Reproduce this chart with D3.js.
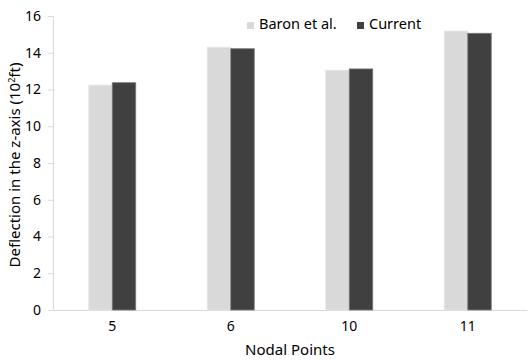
<!DOCTYPE html>
<html><head><meta charset="utf-8">
<script src="https://cdn.jsdelivr.net/npm/d3@7"></script>
<style>body{margin:0;background:#fff}svg{display:block}text{font-family:"Noto Sans",sans-serif;fill:#000}</style>
</head><body>
<svg id="c" width="529" height="360"></svg>
<script>
const categories = ["5", "6", "10", "11"];
const seriesNames = ["Baron et al.", "Current"];
const baron = [12.24, 14.3, 13.05, 15.18];
const current = [12.37, 14.22, 13.12, 15.06];
const yTicks = [0, 2, 4, 6, 8, 10, 12, 14, 16];
const colors = ["#d9d9d9", "#404040"];

const svg = d3.select("#c");
const m = {l: 53, r: 2, t: 16, b: 50};
const W = 529, H = 360;
const x = d3.scaleBand().domain(categories).range([m.l, W - m.r]).paddingInner(0).paddingOuter(0);
const xs = d3.scaleBand().domain(seriesNames).range([0, 47]);
const y = d3.scaleLinear().domain([0, 16]).range([H - m.b, m.t]);

// y axis
const ya = svg.append("g").attr("transform", `translate(${m.l},0)`)
  .call(d3.axisLeft(y).tickValues(yTicks).tickSize(5).tickPadding(7).tickFormat(d3.format("d")));
ya.selectAll("path,line").attr("stroke", "#d9d9d9");
ya.selectAll("text").style("font-size", "14px").attr("fill", "#000");

// x axis
const xa = svg.append("g").attr("transform", `translate(0,${H - m.b})`)
  .call(d3.axisBottom(x).tickSize(0).tickPadding(11));
xa.select("path").attr("stroke", "#d9d9d9");
xa.selectAll("text").style("font-size", "14px").attr("fill", "#000");

const data = categories.map((c, i) => ({c, vals: [baron[i], current[i]]}));
const g = svg.append("g");
data.forEach(d => {
  d.vals.forEach((v, j) => {
    const bx = x(d.c) + x.bandwidth() / 2 - 23.5 + xs(seriesNames[j]);
    g.append("rect")
      .attr("x", bx).attr("y", y(v))
      .attr("width", xs.bandwidth()).attr("height", y(0) - y(v))
      .attr("fill", colors[j])
      .attr("stroke", j === 1 ? "#7a7a7a" : "#e6e6e6").attr("stroke-width", 0.8);
  });
});

// legend
const leg = svg.append("g");
const legX = [247, 357];
seriesNames.forEach((n, j) => {
  leg.append("rect").attr("x", legX[j]).attr("y", 22).attr("width", 7).attr("height", 7).attr("fill", colors[j]);
  leg.append("text").attr("x", legX[j] + 12).attr("y", 29).style("font-size", "14.5px").text(n);
});

// axis titles
svg.append("text").attr("x", 290).attr("y", 355).attr("text-anchor", "middle").style("font-size", "15px").text("Nodal Points");
const yt = svg.append("text").attr("transform", "translate(20,165) rotate(-90)").attr("text-anchor", "middle").style("font-size", "15px");
yt.append("tspan").text("Deflection in the z-axis (10");
yt.append("tspan").attr("dy", -5).style("font-size", "9px").text("2");
yt.append("tspan").attr("dy", 5).text("ft)");
</script>
</body></html>
